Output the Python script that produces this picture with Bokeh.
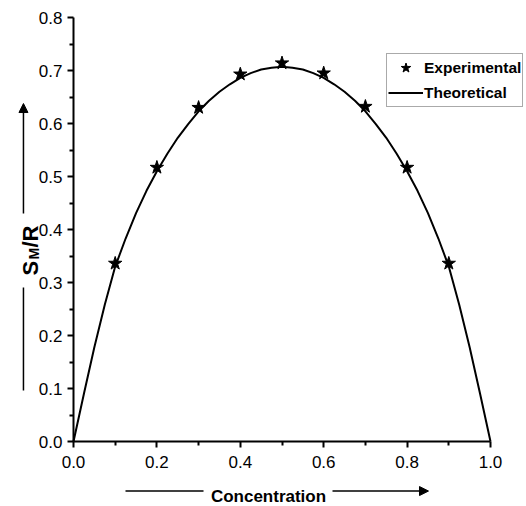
import math
from bokeh.plotting import figure
from bokeh.models import (Range1d, FixedTicker, PrintfTickFormatter, Legend, LegendItem,
                          Label, Arrow, NormalHead, LinearAxis)
from bokeh.embed import file_html
from bokeh.resources import INLINE

# ---- data ----
exp_x = [0.1, 0.2, 0.3, 0.4, 0.5, 0.6, 0.7, 0.8, 0.9]
exp_y = [0.336, 0.517, 0.630, 0.693, 0.714, 0.695, 0.632, 0.517, 0.336]

theo_x = [0.0, 0.025, 0.05, 0.075, 0.1, 0.125, 0.15, 0.175, 0.2, 0.225, 0.25, 0.275,
          0.3, 0.325, 0.35, 0.375, 0.4, 0.425, 0.45, 0.475, 0.5,
          0.525, 0.55, 0.575, 0.6, 0.625, 0.65, 0.675, 0.7, 0.725, 0.75, 0.775,
          0.8, 0.825, 0.85, 0.875, 0.9, 0.925, 0.95, 0.975, 1.0]
theo_y = [0.0, 0.090, 0.178, 0.258, 0.330, 0.383, 0.431, 0.473, 0.510, 0.543, 0.573, 0.599,
          0.623, 0.643, 0.660, 0.674, 0.686, 0.695, 0.702, 0.705, 0.707,
          0.705, 0.702, 0.695, 0.686, 0.674, 0.660, 0.643, 0.623, 0.599, 0.573, 0.543,
          0.510, 0.473, 0.431, 0.383, 0.330, 0.258, 0.178, 0.090, 0.0]

x_ticks = [0.0, 0.2, 0.4, 0.6, 0.8, 1.0]
x_minor = [0.1, 0.3, 0.5, 0.7, 0.9]
y_ticks = [0.0, 0.1, 0.2, 0.3, 0.4, 0.5, 0.6, 0.7, 0.8]
y_minor = [0.05, 0.15, 0.25, 0.35, 0.45, 0.55, 0.65, 0.75]

FONT = "Liberation Sans"

p = figure(width=526, height=506, output_backend="svg", toolbar_location=None,
           x_range=Range1d(-0.17506, 1.08633), y_range=Range1d(-0.12264, 0.83208),
           x_axis_location=None, y_axis_location=None,
           min_border=0, min_border_left=0, min_border_right=0,
           min_border_top=0, min_border_bottom=0)
p.outline_line_color = None
p.xgrid.visible = False
p.ygrid.visible = False
p.background_fill_color = "white"
p.border_fill_color = "white"

line_r = p.line(theo_x, theo_y, line_color="black", line_width=2)
star_r = p.scatter(exp_x, exp_y, marker="star", size=14, fill_color="black", line_color="black")

xax = LinearAxis(fixed_location=0, bounds=(0, 1),
                 ticker=FixedTicker(ticks=x_ticks, minor_ticks=x_minor))
yax = LinearAxis(fixed_location=0, bounds=(0, 0.8),
                 ticker=FixedTicker(ticks=y_ticks, minor_ticks=y_minor))
for ax in (xax, yax):
    ax.axis_line_width = 2
    ax.major_tick_line_width = 2
    ax.minor_tick_line_width = 2
    ax.major_tick_in = 0
    ax.major_tick_out = 6
    ax.minor_tick_in = 0
    ax.minor_tick_out = 4
    ax.major_label_text_font = FONT
    ax.major_label_text_font_size = "17px"
    ax.major_label_text_color = "black"
    ax.formatter = PrintfTickFormatter(format="%.1f")
xax.major_label_standoff = 8
yax.major_label_standoff = 5
p.add_layout(xax, "below")
p.add_layout(yax, "left")

# x-axis title with arrow
p.add_layout(Label(x=0.4676, y=-0.1038, text="Concentration", text_font=FONT,
                   text_font_style="bold", text_font_size="17px", text_align="center",
                   text_baseline="alphabetic", text_color="black"))
p.add_layout(Arrow(end=None, x_start=0.1247, y_start=-0.0935, x_end=0.3118, y_end=-0.0935,
                   line_width=1.5, line_color="black"))
p.add_layout(Arrow(end=NormalHead(size=9, fill_color="black", line_color="black"),
                   x_start=0.6211, y_start=-0.0935, x_end=0.8513, y_end=-0.0935,
                   line_width=1.5, line_color="black"))

# y-axis title S_M/R with arrow
p.add_layout(Label(x=-0.1031, y=0.3132, text="S", text_font=FONT, text_font_style="bold",
                   text_font_size="22px", angle=math.pi / 2, text_align="left",
                   text_baseline="alphabetic", text_color="black"))
p.add_layout(Label(x=-0.0959, y=0.3434, text="M", text_font=FONT, text_font_style="bold",
                   text_font_size="14px", angle=math.pi / 2, text_align="left",
                   text_baseline="alphabetic", text_color="black"))
p.add_layout(Label(x=-0.1031, y=0.366, text="/R", text_font=FONT, text_font_style="bold",
                   text_font_size="22px", angle=math.pi / 2, text_align="left",
                   text_baseline="alphabetic", text_color="black"))
p.add_layout(Arrow(end=None, x_start=-0.12, y_start=0.0962, x_end=-0.12, y_end=0.2906,
                   line_width=1.5, line_color="black"))
p.add_layout(Arrow(end=NormalHead(size=9, fill_color="black", line_color="black"),
                   x_start=-0.12, y_start=0.430, x_end=-0.12, y_end=0.6377,
                   line_width=1.5, line_color="black"))

legend = Legend(items=[LegendItem(label="Experimental", renderers=[star_r]),
                       LegendItem(label="Theoretical", renderers=[line_r])],
                location=(386, 399), padding=1, spacing=0, margin=0,
                glyph_width=35, glyph_height=25, label_height=25, label_standoff=1,
                label_text_font=FONT, label_text_font_style="bold",
                label_text_font_size="15.5px", label_text_color="black",
                border_line_color="#555555", border_line_width=1,
                background_fill_color="white", background_fill_alpha=1)
p.add_layout(legend)

open("out.html", "w").write(file_html(p, INLINE))
